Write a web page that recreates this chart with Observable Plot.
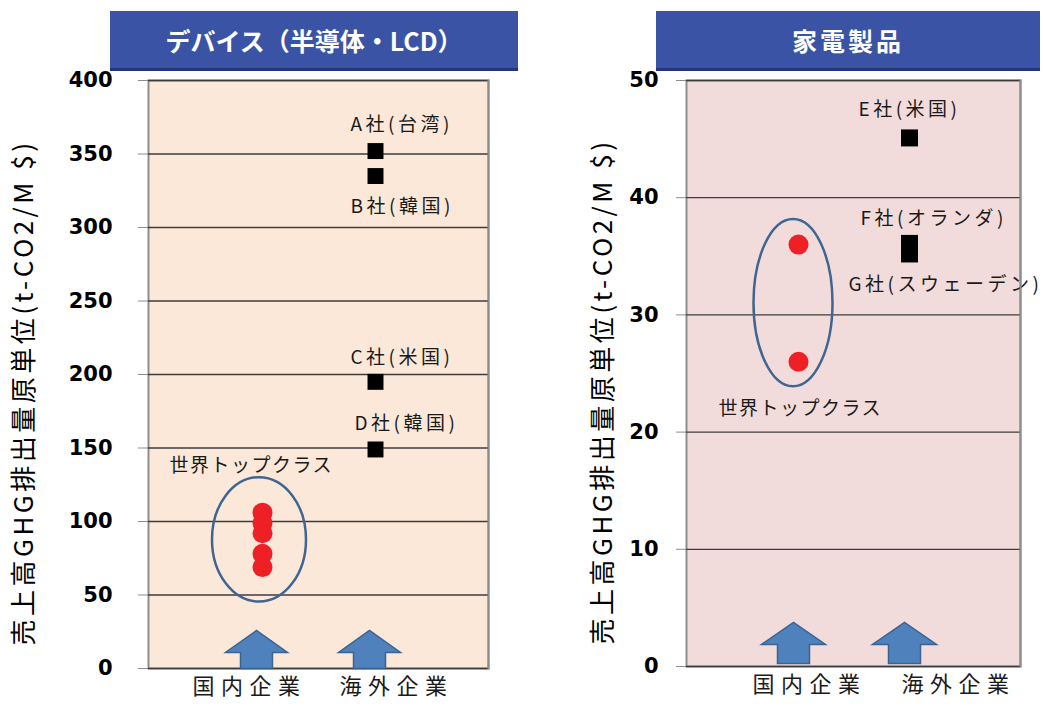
<!DOCTYPE html>
<html>
<head>
<meta charset="utf-8">
<script src="https://cdn.jsdelivr.net/npm/d3@7"></script>
<script src="https://cdn.jsdelivr.net/npm/@observablehq/plot@0.6"></script>
<style>
  body { margin: 0; background: #fff; }
  #chart { position: relative; width: 1043px; height: 707px; overflow: hidden; font-family: "Noto Sans CJK JP", sans-serif; }
  #chart svg { position: absolute; top: 0; }
  .banner {
    position: absolute; top: 11px; height: 60px; box-sizing: border-box;
    background: #3A53A4; border-bottom: 3px solid #26347F;
    color: #fff; font-weight: bold; font-size: 25px;
    display: flex; align-items: center; justify-content: center; z-index: 2;
  }
</style>
</head>
<body>
<div id="chart"></div>
<script>
// Panel headings and the two company groups on the x axis
const segments = ["デバイス（半導体・LCD）", "家電製品"];
const groups = ["国内企業", "海外企業"];
const axisTitle = "売上高GHG排出量原単位(t-CO2/M $)";
const topClassNote = "世界トップクラス";

// Devices (semiconductors / LCD), t-CO2 per M$ of sales
const deviceDomestic = [106, 99, 92, 78, 69];
const deviceOverseasNames = ["A社(台湾)", "B社(韓国)", "C社(米国)", "D社(韓国)"];
const deviceOverseasValues = [352, 335, 195, 149];
const deviceTicks = [0, 50, 100, 150, 200, 250, 300, 350, 400];

// Home appliances, t-CO2 per M$ of sales
const applianceDomestic = [36, 26];
const applianceOverseasNames = ["E社(米国)", "F社(オランダ)", "G社(スウェーデン)"];
const applianceOverseasValues = [45.1, 36.1, 35.2];
const applianceTicks = [0, 10, 20, 30, 40, 50];

// Widen a text mark's glyph spacing
const spaced = px => (index, scales, values, dims, ctx, next) => {
  const g = next(index, scales, values, dims, ctx);
  g.style.letterSpacing = px + "px";
  return g;
};

// Block arrow drawn upward from the bottom of the frame
function blockArrow(headHalf, shaftHalf, headLen) {
  return {
    draw(ctx, l) {
      ctx.moveTo(-shaftHalf, 0);
      ctx.lineTo(-shaftHalf, -(l - headLen));
      ctx.lineTo(-headHalf, -(l - headLen));
      ctx.lineTo(0, -l);
      ctx.lineTo(headHalf, -(l - headLen));
      ctx.lineTo(shaftHalf, -(l - headLen));
      ctx.lineTo(shaftHalf, 0);
      ctx.closePath();
    }
  };
}

// Ellipse circling the domestic cluster, sized from the cluster's extent
function ring(values, {rx, pad, dx}) {
  return (index, scales) => {
    const lo = d3.min(values), hi = d3.max(values);
    const y0 = scales.y(lo), y1 = scales.y(hi);
    return d3.create("svg:ellipse")
      .attr("cx", scales.x(groups[0]) + dx)
      .attr("cy", (y0 + y1) / 2)
      .attr("rx", rx)
      .attr("ry", Math.abs(y0 - y1) / 2 + pad)
      .attr("fill", "none")
      .attr("stroke", "#3F6591")
      .attr("stroke-width", 2.5)
      .node();
  };
}

function panel(cfg) {
  const overseas = cfg.names.map((name, i) => ({name, value: cfg.values[i]}));
  const labelMarks = overseas.map((d, i) =>
    Plot.text([d], {
      x: () => groups[1], y: "value", text: "name",
      textAnchor: "start", dx: cfg.labelLayout[i][0], dy: cfg.labelLayout[i][1],
      fontSize: 19, fill: "#1a1a1a", render: spaced(3.5)
    })
  );
  return Plot.plot({
    width: cfg.width, height: 707,
    marginLeft: cfg.marginLeft, marginRight: cfg.marginRight,
    marginTop: 80, marginBottom: cfg.marginBottom,
    style: {fontFamily: '"Noto Sans CJK JP", sans-serif', fontSize: "18px", background: "transparent", overflow: "visible"},
    x: {type: "point", domain: groups, padding: 1, axis: null},
    y: {domain: cfg.yDomain, axis: null},
    marks: [
      Plot.frame({fill: cfg.bg}),
      Plot.frame({stroke: "#8d8d8d", strokeWidth: 2}),
      Plot.gridY(cfg.ticks, {stroke: "#3c3c3c", strokeOpacity: 1, strokeWidth: 1.3}),
      Plot.axisY(cfg.ticks, {
        tickSize: 10, tickPadding: cfg.tickPadding, stroke: "#8d8d8d", fill: "#000",
        fontFamily: '"DejaVu Sans", sans-serif', fontWeight: "bold", fontSize: 21, label: null
      }),
      Plot.text([axisTitle], {
        frameAnchor: "left", textAnchor: "middle", text: d => d, rotate: -90,
        dx: cfg.titleDx, dy: 18, fontSize: 26, fill: "#000", render: spaced(3.5)
      }),
      ...labelMarks,
      Plot.text([topClassNote], {
        x: () => groups[0], y: () => cfg.noteAnchor, text: d => d,
        textAnchor: "start", dx: cfg.noteDx, dy: cfg.noteDy,
        fontSize: 19, fill: "#1a1a1a", render: spaced(1.5)
      }),
      Plot.frame({stroke: "#8d8d8d", strokeWidth: 2, anchor: "right"}),
      Plot.vector(groups, {
        x: d => d, frameAnchor: "bottom", length: cfg.arrowLen, anchor: "start",
        dx: cfg.arrowDx, dy: cfg.arrowDy,
        shape: blockArrow(cfg.arrowHead, 16, 22),
        fill: "#4F81BD", stroke: "#3B6391", strokeWidth: 1.5, strokeLinejoin: "miter"
      }),
      Plot.text([groups[0]], {x: d => d, frameAnchor: "bottom", dy: 25, dx: cfg.catDx[0] + 3, fontSize: 22, fill: "#1a1a1a", render: spaced(6.5)}),
      Plot.text([groups[1]], {x: d => d, frameAnchor: "bottom", dy: 25, dx: cfg.catDx[1] + 3, fontSize: 22, fill: "#1a1a1a", render: spaced(6.5)}),
      ring(cfg.domestic, cfg.ring),
      Plot.dot(cfg.domestic, {x: () => groups[0], y: d => d, r: 10, fill: "#EE1F25"}),
      Plot.dot(overseas, {x: () => groups[1], y: "value", symbol: "square", r: cfg.squareR, fill: "#000"})
    ]
  });
}

const chart = document.getElementById("chart");

const left = panel({
  width: 525, marginLeft: 148, marginRight: 37, marginBottom: 39,
  yDomain: [0, 400], ticks: deviceTicks, tickPadding: 26, bg: "#FBE8D9",
  names: deviceOverseasNames, values: deviceOverseasValues,
  labelLayout: [[-25, -26], [-25, 31], [-25, -24], [-21, -26]],
  domestic: deviceDomestic, ring: {rx: 47, pad: 35, dx: -3},
  noteAnchor: d3.max(deviceDomestic), noteDx: -93, noteDy: -47,
  titleDx: -124, catDx: [-16, 18],
  arrowLen: 38, arrowDx: -6, arrowDy: 0, arrowHead: 31, squareR: 9
});
left.style.left = "0px";
chart.appendChild(left);

const right = panel({
  width: 483, marginLeft: 126, marginRight: 23, marginBottom: 41,
  yDomain: [0, 50], ticks: applianceTicks, tickPadding: 18, bg: "#F2DCDB",
  names: applianceOverseasNames, values: applianceOverseasValues,
  labelLayout: [[-51, -28], [-49, -25], [-61, 31]],
  domestic: applianceDomestic, ring: {rx: 39.5, pad: 25, dx: -5},
  noteAnchor: d3.min(applianceDomestic), noteDx: -80, noteDy: 47,
  titleDx: -83, catDx: [8, 46],
  arrowLen: 41, arrowDx: -5, arrowDy: -3, arrowHead: 32, squareR: 9.6
});
right.style.left = "560px";
chart.appendChild(right);

// Panel headings
[[110, 408, segments[0], 0], [656, 384, segments[1], 3]].forEach(([x, w, label, spacing]) => {
  const b = document.createElement("div");
  b.className = "banner";
  b.style.left = x + "px";
  b.style.width = w + "px";
  b.style.letterSpacing = spacing + "px";
  b.textContent = label;
  chart.appendChild(b);
});
</script>
</body>
</html>
